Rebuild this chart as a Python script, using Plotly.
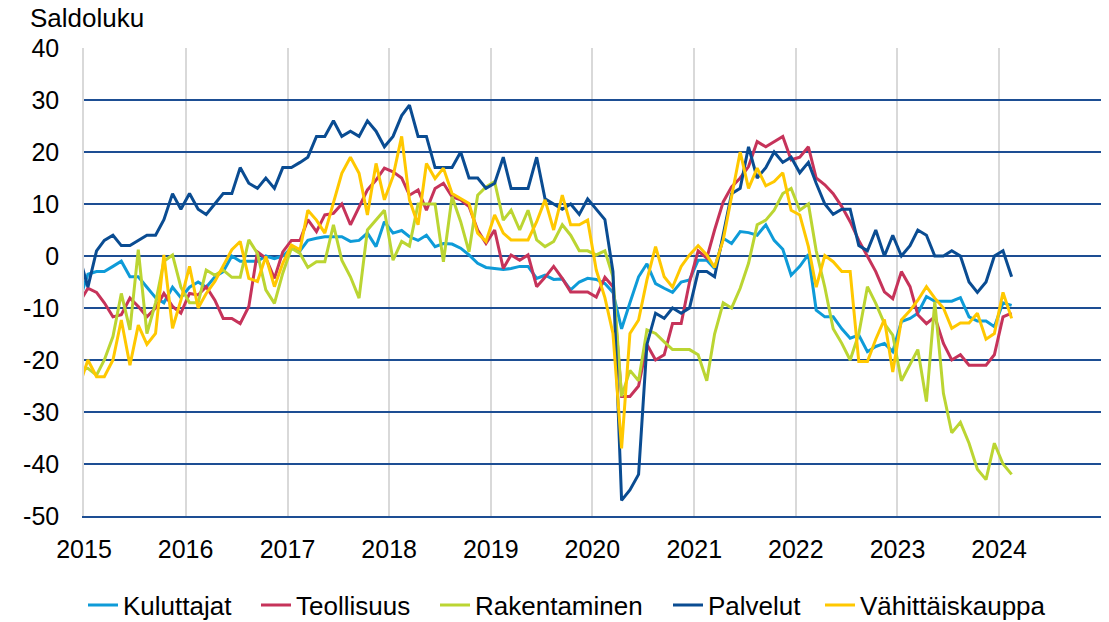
import pandas as pd
import plotly.graph_objects as go

# Monthly balance figures, Dec 2014 .. Feb 2024 (first value only feeds the clipped line start)
months = pd.date_range("2014-12-01", "2024-02-01", freq="MS") + pd.Timedelta(days=14)

kuluttajat = [-8.5,
    -3.5, -3, -3, -2, -1, -4, -4, -6, -8, -9, -6, -8,
    -6, -5, -6, -4, -3, 0, -1, -1, -1, 0, -0.5, 0,
    1.5, 1, 3, 3.4, 3.7, 3.7, 3.7, 2.8, 3, 4.4, 1.8, 6.6,
    4.4, 4.9, 3.7, 3, 4, 1.8, 2.4, 2.3, 1.5, 0.2, -1.4, -2.2,
    -2.4, -2.6, -2.4, -2, -2, -4.3, -3.7, -4.5, -4.4, -6.5, -5, -4.3,
    -4.5, -5.3, -7, -14, -9, -4, -1.5, -5.3, -6.2, -7, -5, -4.6,
    -0.8, -0.8, -2.4, 3.4, 2.4, 4.7, 4.5, 4, 6, 3, 1.3, -3.7,
    -2, 0.3, -10.4, -11.7, -11.7, -14, -15.8, -15.2, -18.4, -17.4, -16.8, -18.4,
    -12.6, -12, -11, -7.8, -8.7, -8.7, -8.7, -8, -11.7, -12.5, -12.5, -13.6,
    -9, -9.5]

teollisuus = [-9,
    -6.2, -7, -9, -11.7, -11.3, -8.1, -9.7, -11.7, -10, -7.2, -9.7, -11,
    -7.2, -7.5, -5.9, -8.5, -12, -12, -13, -9.7, 0.8, -0.4, -4.3, 0.8,
    3, 3, 7, 4.7, 7.9, 8.2, 10, 6, 9.5, 12.7, 14.6, 16.9,
    16.2, 15, 11.7, 12.7, 8.8, 13, 14, 11.4, 10.8, 9.5, 5, 2.4,
    5, -2.4, 0.2, -0.8, 0.2, -5.9, -4.1, -2, -4.3, -6.9, -6.9, -6.9,
    -7.9, -4.1, -5.9, -27, -27, -25, -17, -20, -19, -13, -13, -5,
    1, -0.4, 5, 10.4, 13.3, 15, 17.2, 22, 21, 22, 23, 18.5,
    19, 21, 15, 13.7, 12, 9.5, 6.6, 3, 0, -3, -6.9, -8.2,
    -3, -5.9, -11.3, -13, -11.7, -16.8, -20, -19, -21, -21, -21, -19,
    -11.7, -11]

rakentaminen = [-22,
    -21.6, -22.9, -20, -15.5, -7.2, -14.2, 1.2, -14.9, -9, -1, 0.2, -6,
    -9, -9, -2.7, -3.7, -2.7, -4.1, -4.1, 3.1, 0.5, -6.5, -9.1, -3.3,
    1.5, 0.5, -2.2, -1.1, -1.1, 6, -0.8, -4, -8.1, 5, 6.9, 8.8,
    -0.8, 2.8, 1.9, 10, 10, 10, -1.1, 11.4, 6.6, 0.8, 11.7, 13.3,
    14.3, 6.9, 8.8, 5, 8.8, 3.1, 1.8, 2.8, 6, 4, 1, 1,
    0.2, 1, -4, -27, -22, -24, -14.2, -14.9, -16.5, -18, -18, -18,
    -19, -24, -15, -9, -10, -6.2, -1.4, 6, 6.9, 8.8, 12, 13,
    8.8, 10, 1, -6, -14, -16.8, -20, -15, -5.9, -9.1, -13, -15.2,
    -24, -21, -18, -28, -8.8, -26.4, -34, -32, -36, -41, -43, -36,
    -40, -42]

palvelut = [0,
    -6, 1, 3, 4, 2, 2, 3, 4, 4, 7, 12, 9,
    12, 9, 8, 10, 12, 12, 17, 14, 13, 15, 13, 17,
    17, 18, 19, 23, 23, 26, 23, 24, 23, 26, 24, 21,
    23, 27, 29, 23, 23, 17, 17, 17, 20, 15, 15, 13,
    14, 19, 13, 13, 13, 19, 11, 10, 9, 10, 8, 11,
    9, 7, -3, -47, -45, -42, -17, -11, -12, -10, -11, -10,
    -3, -3, -4, 4, 12, 13, 21, 15, 17, 20, 18, 19,
    16, 18, 14, 10, 8, 9, 9, 2, 1, 5, 0, 4,
    0, 2, 5, 4, 0, 0, 1, 0, -5, -7, -5, 0,
    1, -4]

vahittaiskauppa = [-25,
    -20, -23.2, -23.2, -20, -12.3, -21, -13.3, -17, -14.9, 0.2, -13.9, -8.5,
    -2, -10, -7.2, -4.9, -2, 1.2, 2.8, -4.3, -4.9, -0.1, -5.9, -1.4,
    2.1, 1.2, 8.8, 6.9, 4.4, 10, 15.9, 19, 15.9, 7.9, 17.8, 10.8,
    15.3, 23, 10.8, 6, 17.8, 14.9, 16.9, 12, 11.1, 10.1, 4.4, 2.8,
    7.9, 4.4, 3.1, 3.1, 3.1, 6.6, 10.8, 5, 11.7, 6, 6, 6.9,
    -2.7, -8, -14.9, -37, -14.9, -12.3, -4.6, 1.8, -4, -6, -2, 0.2,
    2, 0.2, -2.2, 3.1, 11.1, 20, 13, 16.9, 13.5, 14.3, 16, 8.8,
    7.9, 1.8, -6, 0.1, -1.1, -3, -3, -20.3, -20.3, -16, -12.2, -22.3,
    -12.3, -10.5, -8.5, -5.9, -8.1, -10, -13.9, -12.9, -12.9, -11, -16, -14.9,
    -7, -12]

series_names = ["Kuluttajat", "Teollisuus", "Rakentaminen", "Palvelut", "Vähittäiskauppa"]
series_values = [kuluttajat, teollisuus, rakentaminen, palvelut, vahittaiskauppa]
series_colors = ["#0E9BD8", "#C6335A", "#BBD532", "#0A4C92", "#FFC800"]

year_labels = [str(y) for y in range(2015, 2025)]
year_ticks = [f"{y}-01-01" for y in year_labels]
y_ticks = list(range(-50, 41, 10))
y_labels = [str(v) for v in y_ticks]

FONT = "Liberation Sans, Arial, sans-serif"
FS = 25
LFS = 26
NAVY = "#1D4E93"
GREY = "#D9D9D9"

fig = go.Figure()
legend_keys = ["legend", "legend2", "legend3", "legend4", "legend5"]
legend_px = [90, 263, 442, 675, 827]

for name, vals, col, lk in zip(series_names, series_values, series_colors, legend_keys):
    fig.add_trace(go.Scatter(
        x=months, y=vals, name=name, mode="lines",
        line=dict(color=col, width=3), legend=lk,
    ))

layout_legends = {}
for lk, px in zip(legend_keys, legend_px):
    layout_legends[lk] = dict(
        xref="container", yref="container",
        x=(px - 7) / 1109, y=1 - 605 / 622,
        xanchor="left", yanchor="middle",
        orientation="h", bgcolor="rgba(0,0,0,0)",
        font=dict(family=FONT, size=LFS, color="black"),
        itemwidth=30,
    )

fig.update_layout(
    width=1109, height=622,
    margin=dict(l=84, r=8, t=48, b=106, autoexpand=False),
    plot_bgcolor="white", paper_bgcolor="white",
    font=dict(family=FONT, size=FS, color="black"),
    showlegend=True,
    **layout_legends,
    xaxis=dict(
        type="date", range=["2015-01-01", "2025-01-01"],
        tickmode="array", tickvals=year_ticks, ticktext=year_labels,
        showgrid=True, gridcolor=GREY, gridwidth=1.5,
        showline=True, linecolor=NAVY, linewidth=1.5,
        ticks="", ticklabelstandoff=10, zeroline=False, automargin=False,
        tickfont=dict(family=FONT, size=FS, color="black"),
    ),
    xaxis2=dict(
        type="date", range=["2015-01-01", "2025-01-01"],
        overlaying="x", anchor="free", position=50 / 90,
        tickmode="array", tickvals=year_ticks,
        showgrid=False, showticklabels=False,
        showline=True, linecolor=NAVY, linewidth=1.5,
        ticks="outside", ticklen=5, tickwidth=1.5, tickcolor=NAVY,
    ),
    yaxis=dict(
        range=[-50, 40], tickmode="array", tickvals=y_ticks, ticktext=y_labels,
        showgrid=True, gridcolor=NAVY, gridwidth=1.5,
        showline=True, linecolor=GREY, linewidth=1.5,
        zeroline=False, ticks="", ticklabelstandoff=18, automargin=False,
        tickfont=dict(family=FONT, size=FS, color="black"),
    ),
    annotations=[dict(
        text="Saldoluku", xref="paper", yref="paper",
        x=(28 - 84) / 1017, y=(516 - 18) / 468,
        xanchor="left", yanchor="middle", showarrow=False,
        font=dict(family=FONT, size=LFS, color="black"),
    )],
)

fig.write_html("out.html", config={"displayModeBar": False},
               post_script="document.body.style.margin='0';")
